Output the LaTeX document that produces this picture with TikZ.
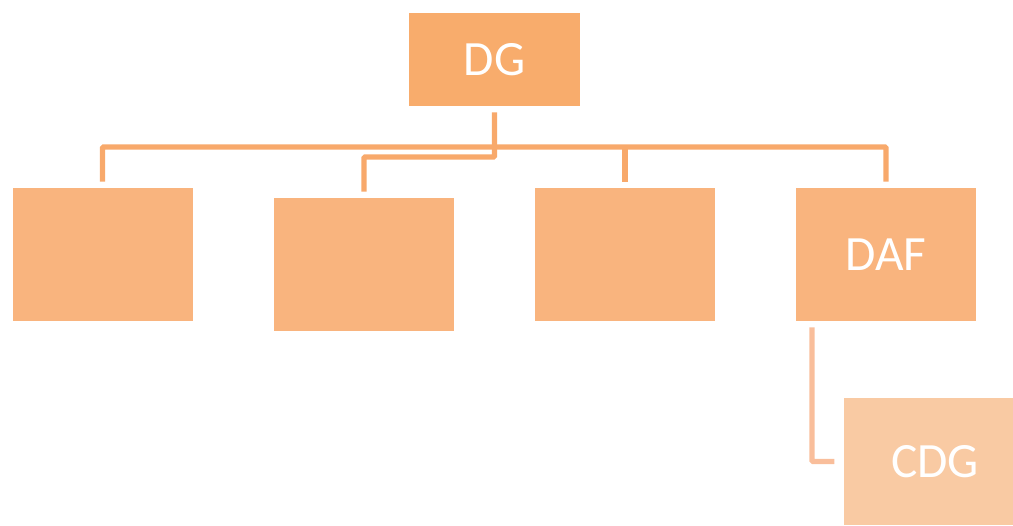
\documentclass[tikz,border=0pt]{standalone}
\usepackage{fontspec}
\setmainfont{Carlito}
\usetikzlibrary{positioning}
\definecolor{topfill}{HTML}{F8AC6C}
\definecolor{unitfill}{HTML}{F9B47E}
\definecolor{subfill}{HTML}{F9CAA3}
\definecolor{linkink}{HTML}{F8A96B}
\definecolor{softink}{HTML}{F9BE9B}
\tikzset{
  font=\fontsize{37}{42}\selectfont,
  unit/.style={fill=unitfill, text=white, inner sep=0pt,
    minimum width=135pt, minimum height=99.75pt},
  topunit/.style={unit, fill=topfill,
    minimum width=128.25pt, minimum height=69.75pt},
  subunit/.style={unit, fill=subfill,
    minimum width=126.75pt, minimum height=95.25pt},
  link/.style={draw=linkink, line width=4.1pt, rounded corners=1pt,
    shorten <=4.5pt, shorten >=4.5pt},
  softlink/.style={link, draw=softink}
}
\begin{document}
\begin{tikzpicture}[x=0.75pt,y=-0.75pt]
  \useasboundingbox (0,0) rectangle (1013,525);

  % boxes
  \node[topunit] (dg) at (494.5,59.5) {DG};
  \node[unit] (b1) at (102.5,254.5) {};
  \node[unit] (b2) at (364,264.5) {};
  \node[unit] (b3) at (625,254.5) {};
  \node[unit] (daf) at (886,254.5) {DAF};
  \node[subunit] (cdg) at (928.5,461.5) {\hspace*{10pt}CDG};

  % bus line and elbow
  \coordinate (bus) at (0,147);
  \coordinate (elbow) at (0,157);

  % connectors
  \draw[link] (b1.north) |- (daf.north |- bus) -- (daf.north);
  \draw[link, shorten >=0pt] (b3.north) -- (b3.north |- bus);
  \draw[link] (dg.south) -- (dg.south |- elbow) -| (b2.north);
  \draw[softlink, shorten >=7pt] ([xshift=-55.5pt]daf.south) |- (cdg.west);
\end{tikzpicture}
\end{document}
